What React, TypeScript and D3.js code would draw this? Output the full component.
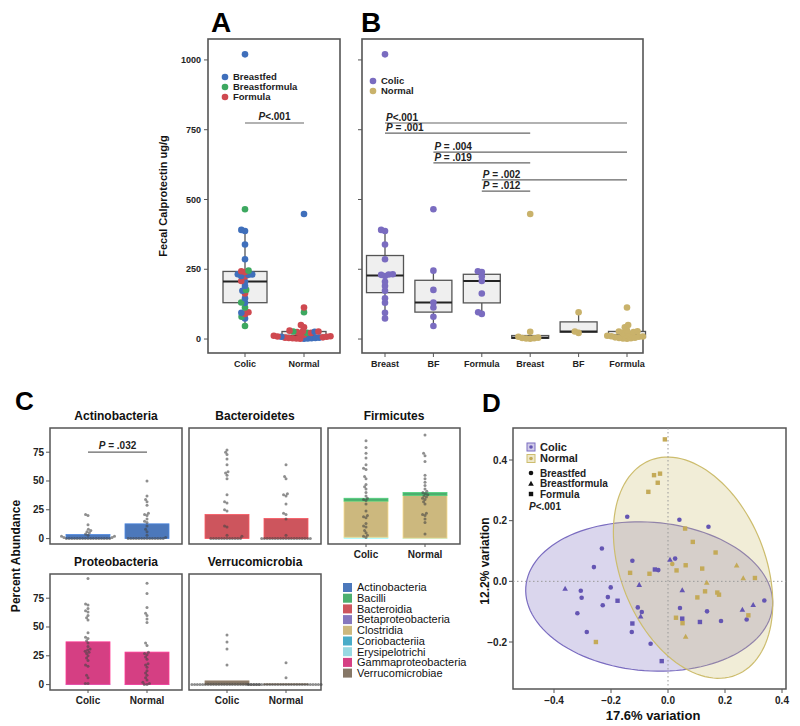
import * as d3 from "d3";

const FONT = "'Liberation Sans', Arial, Helvetica, sans-serif";

// ---- A / B: fecal calprotectin (ug/g), one value per infant
const colicBreast = [1020, 391, 387, 339, 286, 232, 231, 230, 226, 205, 190, 173, 146, 130, 94, 74];
const colicBF = [465, 245, 176, 131, 113, 80, 47];
const colicFormula = [243, 240, 224, 208, 163, 96, 90];
const normalBreast = [448, 26, 8, 5, 4, 3, 2, 1];
const normalBF = [96, 27, 22];
const normalFormula = [113, 50, 42, 30, 28, 27, 25, 22, 18, 15, 12, 10, 9, 8, 6, 5, 4, 3, 2, 1];

const calTicks = [0, 250, 500, 750, 1000];
const groupsA = ["Colic", "Normal"];
const groupsB = ["Breast", "BF", "Formula", "Breast", "BF", "Formula"];
const feedTypes = ["Breastfed", "Breastformula", "Formula"];
const feedColors = ["#3f6fbb", "#3da860", "#cf4950"];
const statusColors = ["#7a6cc0", "#c9b26b"];

const pA = { value: 774, label: "<.001" };
const pB = [
  { from: 0, to: 5, value: 774, label: "<.001" },
  { from: 0, to: 3, value: 738, label: " = .001" },
  { from: 1, to: 5, value: 670, label: " = .004" },
  { from: 1, to: 3, value: 631, label: " = .019" },
  { from: 2, to: 5, value: 570, label: " = .002" },
  { from: 2, to: 3, value: 530, label: " = .012" },
];

// ---- C: percent abundance per infant (dots) and mean class abundance (bars)
const actinoColic = [21, 20, 12, 8, 7, 6, 5, 4, 3, 2, 2, 1, 1, 0, 0, 0, 0, 0, 0, 0, 0, 0, 0, 0, 0, 0, 0, 0, 0, 0];
const actinoNormal = [50, 37, 34, 32, 29, 22, 21, 20, 17, 15, 14, 11, 8, 6, 3, 1, 0, 0, 0, 0, 0, 0, 0, 0, 0, 0, 0, 0, 0, 0];
const bacteroColic = [77, 75, 73, 69, 64, 58, 57, 55, 52, 38, 32, 31, 25, 24, 11, 10, 3, 2, 0, 0, 0, 0, 0, 0, 0, 0, 0, 0, 0, 0];
const bacteroNormal = [64, 54, 52, 39, 38, 37, 30, 22, 21, 17, 3, 0, 0, 0, 0, 0, 0, 0, 0, 0, 0, 0, 0, 0, 0, 0, 0, 0, 0, 0];
const firmiColic = [85, 79, 74, 70, 64, 61, 60, 54, 52, 47, 45, 43, 40, 37, 35, 34, 33, 30, 24, 20, 19, 18, 13, 11, 10, 7, 5, 3, 2, 1];
const firmiNormal = [90, 74, 72, 67, 55, 52, 49, 46, 43, 41, 40, 39, 38, 37, 36, 35, 34, 32, 30, 22, 21, 20, 17, 14, 4];
const proteoColic = [92, 70, 69, 66, 64, 63, 60, 58, 56, 45, 41, 40, 38, 36, 33, 31, 30, 29, 28, 27, 25, 23, 21, 17, 16, 8, 6, 1, 1];
const proteoNormal = [88, 79, 67, 62, 60, 57, 54, 36, 34, 28, 27, 26, 24, 22, 18, 17, 15, 12, 10, 8, 6, 4, 2, 1, 0, 0];
const verruColic = [43, 37, 31, 17, 0, 0, 0, 0, 0, 0, 0, 0, 0, 0, 0, 0, 0, 0, 0, 0, 0, 0, 0, 0, 0, 0, 0, 0, 0, 0];
const verruNormal = [19, 6, 0, 0, 0, 0, 0, 0, 0, 0, 0, 0, 0, 0, 0, 0, 0, 0, 0, 0, 0, 0, 0, 0, 0, 0, 0, 0, 0, 0];

// [class, colic mean, normal mean], bottom of stack first
const actinoBars: [string, number, number][] = [["Actinobacteria", 3.5, 12.8]];
const bacteroBars: [string, number, number][] = [["Bacteroidia", 21, 17.5]];
const firmiBars: [string, number, number][] = [["Erysipelotrichi", 1.2, 0.4], ["Clostridia", 31.3, 37], ["Bacilli", 2.5, 2.6]];
const proteoBars: [string, number, number][] = [["Betaproteobacteria", 0.3, 0.2], ["Gammaproteobacteria", 36.8, 28]];
const verruBars: [string, number, number][] = [["Verrucomicrobiae", 3.2, 0.6]];

const classes = ["Actinobacteria", "Bacilli", "Bacteroidia", "Betaproteobacteria", "Clostridia", "Coriobacteriia", "Erysipelotrichi", "Gammaproteobacteria", "Verrucomicrobiae"];
const classColors = ["#3d6db5", "#3da863", "#c9474f", "#7b6bb8", "#c8b273", "#3aa5c3", "#8fd6df", "#d12f78", "#7c6b5a"];
const abundTicks = [0, 25, 50, 75];

// ---- D: PCoA coordinates [axis1, axis2, feeding]
const pcoaColic: [number, number, string][] = [
  [-0.143, 0.213, "B"], [0.040, 0.203, "B"], [0.142, 0.180, "B"], [-0.232, 0.108, "B"], [-0.260, 0.047, "B"],
  [-0.125, 0.068, "B"], [0.007, 0.072, "BF"], [0.025, 0.075, "B"], [-0.046, 0.039, "F"], [-0.034, 0.037, "B"],
  [-0.361, -0.024, "BF"], [-0.306, -0.031, "B"], [-0.303, -0.054, "B"], [-0.201, -0.020, "B"], [-0.211, -0.052, "B"],
  [-0.177, -0.064, "F"], [-0.101, -0.011, "BF"], [-0.229, -0.079, "B"], [-0.318, -0.105, "B"], [-0.106, -0.086, "B"],
  [-0.092, -0.101, "B"], [-0.096, -0.115, "BF"], [-0.125, -0.139, "F"], [-0.127, -0.167, "B"], [-0.285, -0.167, "B"],
  [-0.061, -0.206, "B"], [-0.022, -0.263, "F"], [0.050, -0.029, "BF"], [0.042, -0.088, "B"], [0.050, -0.123, "F"],
  [0.137, -0.099, "B"], [0.112, -0.134, "F"], [0.186, -0.131, "B"], [0.261, -0.093, "BF"], [0.299, -0.077, "BF"],
  [0.338, -0.063, "B"], [0.276, -0.126, "B"],
];
const pcoaNormal: [number, number, string][] = [
  [-0.011, 0.468, "F"], [-0.049, 0.350, "F"], [-0.028, 0.355, "F"], [-0.036, 0.325, "F"], [-0.069, 0.295, "F"],
  [0.060, 0.174, "F"], [0.087, 0.130, "F"], [0.167, 0.095, "F"], [0.015, 0.057, "B"], [0.030, 0.036, "F"],
  [0.062, 0.053, "F"], [0.120, 0.042, "F"], [0.241, 0.053, "BF"], [0.264, 0.011, "BF"], [0.305, 0.011, "F"],
  [0.136, -0.004, "BF"], [-0.133, 0.028, "F"], [-0.065, 0.025, "F"], [0.130, -0.033, "F"], [0.103, -0.053, "F"],
  [0.173, -0.037, "F"], [0.179, -0.044, "F"], [0.282, -0.112, "F"], [0.028, -0.120, "F"], [0.051, -0.138, "F"],
  [0.062, -0.182, "BF"], [-0.253, -0.200, "F"],
];
// [cx, cy, semi-major, semi-minor, angle deg]
const ellColic = [-0.066, -0.05, 0.434, 0.245, -4];
const ellNormal = [0.088, 0.045, 0.385, 0.251, 115];
const pcoaTicksX = [-0.4, -0.2, 0, 0.2, 0.4];
const pcoaTicksY = [-0.2, 0, 0.2, 0.4];
const pcoaGroups = ["Colic", "Normal"];
const pcoaFill = ["#7a6cc0", "#cdbd6e"];
const pcoaPoint = ["#6455b3", "#c4aa58"];

// ---------- helpers
function boxStats(vals: number[]) {
  const s = vals.slice().sort(d3.ascending);
  const q1 = d3.quantileSorted(s, 0.25)!;
  const med = d3.quantileSorted(s, 0.5)!;
  const q3 = d3.quantileSorted(s, 0.75)!;
  const iqr = q3 - q1;
  const lo = d3.min(s.filter((v) => v >= q1 - 1.5 * iqr))!;
  const hi = d3.max(s.filter((v) => v <= q3 + 1.5 * iqr))!;
  return { q1, med, q3, lo, hi };
}

// simple beeswarm: place each point as close to the centre line as possible
function swarm<T>(items: T[], yOf: (d: T) => number, r: number) {
  const pts = items.map((d) => ({ d, y: yOf(d), x: 0 })).sort((a, b) => b.y - a.y);
  const placed: { x: number; y: number }[] = [];
  for (const p of pts) {
    const near = placed.filter((q) => Math.abs(q.y - p.y) < 2 * r);
    const cands = [0];
    near.forEach((q) => {
      const dx = Math.sqrt(4 * r * r - (q.y - p.y) ** 2);
      cands.push(q.x - dx, q.x + dx);
    });
    cands.sort((a, b) => Math.abs(a) - Math.abs(b));
    const ok = cands.find((c) => near.every((q) => (c - q.x) ** 2 + (p.y - q.y) ** 2 >= 4 * r * r - 0.01));
    p.x = ok ?? 0;
    placed.push(p);
  }
  return pts;
}

function Box({ vals, cx, w, y }: { vals: number[]; cx: number; w: number; y: d3.ScaleLinear<number, number> }) {
  const b = boxStats(vals);
  return (
    <g>
      <line x1={cx} x2={cx} y1={y(b.q3)} y2={y(b.hi)} stroke="#555" strokeWidth={1.3} />
      <line x1={cx} x2={cx} y1={y(b.q1)} y2={y(b.lo)} stroke="#555" strokeWidth={1.3} />
      <rect x={cx - w / 2} y={y(b.q3)} width={w} height={Math.max(1, y(b.q1) - y(b.q3))} fill="#efefef" stroke="#555" strokeWidth={1.3} />
      <line x1={cx - w / 2} x2={cx + w / 2} y1={y(b.med)} y2={y(b.med)} stroke="#222" strokeWidth={2} />
    </g>
  );
}

function PLabel({ x, y, text, anchor = "start" }: { x: number; y: number; text: string; anchor?: string }) {
  return (
    <text x={x} y={y} fontSize={10} fontFamily={FONT} fill="#222" textAnchor={anchor} fontWeight="bold">
      <tspan fontStyle="italic">P</tspan>
      {text}
    </text>
  );
}

// ---------- panels
const yCal = d3.scaleLinear().domain([-50, 1075]).range([353, 39]);

function PanelA() {
  const x = d3.scalePoint<string>().domain(groupsA).range([245, 304]);
  const colic = [colicBreast, colicBF, colicFormula].flatMap((arr, k) => arr.map((v) => ({ v, k })));
  const normal = [normalBreast, normalBF, normalFormula].flatMap((arr, k) => arr.map((v) => ({ v, k })));
  const sets = [colic, normal];
  return (
    <g fontFamily={FONT}>
      <rect x={208} y={39} width={132} height={314} fill="white" stroke="#555" strokeWidth={1.6} />
      {calTicks.map((t) => (
        <g key={t}>
          <line x1={204} x2={208} y1={yCal(t)} y2={yCal(t)} stroke="#555" />
          <text x={201} y={yCal(t)} dy="0.35em" textAnchor="end" fontSize={9} fontWeight="bold" fill="#222">{t}</text>
        </g>
      ))}
      {groupsA.map((g) => (
        <g key={g}>
          <line x1={x(g)} x2={x(g)} y1={353} y2={357} stroke="#555" />
          <text x={x(g)} y={367} textAnchor="middle" fontSize={9} fontWeight="bold" fill="#222">{g}</text>
        </g>
      ))}
      {sets.map((s, i) => (
        <Box key={i} vals={s.map((d) => d.v)} cx={x(groupsA[i])!} w={44} y={yCal} />
      ))}
      {sets.map((s, i) =>
        swarm(s, (d) => yCal(d.v), 1.9).map((p, j) => (
          <circle key={i + "-" + j} cx={x(groupsA[i])! + p.x} cy={p.y} r={3.3} fill={feedColors[p.d.k]} />
        ))
      )}
      {feedTypes.map((f, i) => (
        <g key={f}>
          <circle cx={225} cy={77 + i * 10} r={3.3} fill={feedColors[i]} />
          <text x={233} y={77 + i * 10} dy="0.35em" fontSize={9.5} fontWeight="bold" fill="#222">{f}</text>
        </g>
      ))}
      <line x1={x("Colic")} x2={x("Normal")} y1={yCal(pA.value)} y2={yCal(pA.value)} stroke="#666" strokeWidth={1.2} />
      <PLabel x={(x("Colic")! + x("Normal")!) / 2} y={yCal(pA.value) - 3} text={pA.label} anchor="middle" />
      <text x={163} y={196} transform="rotate(-90 163 196)" textAnchor="middle" dy="0.35em" fontSize={11} fontWeight="bold" fill="#111">Fecal Calprotectin ug/g</text>
      <text x={211} y={32} fontSize={28} fontWeight="bold" fill="#000">A</text>
    </g>
  );
}

function PanelB() {
  const idx = groupsB.map((_, i) => String(i));
  const x = d3.scalePoint<string>().domain(idx).range([385, 627]);
  const sets = [colicBreast, colicBF, colicFormula, normalBreast, normalBF, normalFormula];
  return (
    <g fontFamily={FONT}>
      <rect x={362} y={39} width={281} height={314} fill="white" stroke="#555" strokeWidth={1.6} />
      {calTicks.map((t) => (
        <line key={t} x1={358} x2={362} y1={yCal(t)} y2={yCal(t)} stroke="#555" />
      ))}
      {groupsB.map((g, i) => (
        <g key={i}>
          <line x1={x(idx[i])} x2={x(idx[i])} y1={353} y2={357} stroke="#555" />
          <text x={x(idx[i])} y={367} textAnchor="middle" fontSize={9} fontWeight="bold" fill="#222">{g}</text>
        </g>
      ))}
      {sets.map((s, i) => (
        <Box key={i} vals={s} cx={x(idx[i])!} w={37} y={yCal} />
      ))}
      {sets.map((s, i) =>
        swarm(s, (v) => yCal(v), 2.0).map((p, j) => (
          <circle key={i + "-" + j} cx={x(idx[i])! + p.x} cy={p.y} r={3.3} fill={statusColors[i < 3 ? 0 : 1]} />
        ))
      )}
      {groupsA.map((g, i) => (
        <g key={g}>
          <circle cx={373} cy={81 + i * 10} r={3.3} fill={statusColors[i]} />
          <text x={381} y={81 + i * 10} dy="0.35em" fontSize={9.5} fontWeight="bold" fill="#222">{g}</text>
        </g>
      ))}
      {pB.map((p, i) => (
        <g key={i}>
          <line x1={x(idx[p.from])} x2={x(idx[p.to])} y1={yCal(p.value)} y2={yCal(p.value)} stroke="#666" strokeWidth={1.2} />
          <PLabel x={x(idx[p.from])! + 1} y={yCal(p.value) - 2} text={p.label} />
        </g>
      ))}
      <text x={361} y={32} fontSize={28} fontWeight="bold" fill="#000">B</text>
    </g>
  );
}

const facets = [
  { name: "Actinobacteria", col: 0, row: 0, colic: actinoColic, normal: actinoNormal, bars: actinoBars, p: " = .032" },
  { name: "Bacteroidetes", col: 1, row: 0, colic: bacteroColic, normal: bacteroNormal, bars: bacteroBars, p: "" },
  { name: "Firmicutes", col: 2, row: 0, colic: firmiColic, normal: firmiNormal, bars: firmiBars, p: "" },
  { name: "Proteobacteria", col: 0, row: 1, colic: proteoColic, normal: proteoNormal, bars: proteoBars, p: "" },
  { name: "Verrucomicrobia", col: 1, row: 1, colic: verruColic, normal: verruNormal, bars: verruBars, p: "" },
];
const colX = [50, 189, 328];
const rowY = [428, 574];
const PW = 132;
const PH = 116;

function PanelC() {
  const color = d3.scaleOrdinal<string, string>().domain(classes).range(classColors);
  return (
    <g fontFamily={FONT}>
      {facets.map((f) => {
        const x0 = colX[f.col];
        const y0 = rowY[f.row];
        const y = d3.scaleLinear().domain([-4.7, 96]).range([y0 + PH, y0]);
        const x = d3.scalePoint<string>().domain(groupsA).range([x0 + 38, x0 + 97]);
        const showX = f.row === 1 || f.col === 2;
        const vals = [f.colic, f.normal];
        return (
          <g key={f.name}>
            <rect x={x0} y={y0} width={PW} height={PH} fill="white" stroke="#555" strokeWidth={1.5} />
            <text x={x0 + PW / 2} y={y0 - 8} textAnchor="middle" fontSize={12} fontWeight="bold" fill="#111">{f.name}</text>
            {f.col === 0 &&
              abundTicks.map((t) => (
                <g key={t}>
                  <line x1={x0 - 4} x2={x0} y1={y(t)} y2={y(t)} stroke="#555" />
                  <text x={x0 - 6} y={y(t)} dy="0.35em" textAnchor="end" fontSize={10} fontWeight="bold" fill="#222">{t}</text>
                </g>
              ))}
            {showX &&
              groupsA.map((g) => (
                <g key={g}>
                  <line x1={x(g)} x2={x(g)} y1={y0 + PH} y2={y0 + PH + 3} stroke="#555" />
                  <text x={x(g)} y={y0 + PH + 14} textAnchor="middle" fontSize={10} fontWeight="bold" fill="#222">{g}</text>
                </g>
              ))}
            {groupsA.map((g, gi) => {
              let acc = 0;
              return f.bars.map(([cls, c, n]) => {
                const v = gi === 0 ? c : n;
                const yTop = y(acc + v);
                const yBot = y(acc);
                acc += v;
                const col = color(cls);
                return (
                  <rect key={g + cls} x={x(g)! - 22} y={yTop} width={44} height={yBot - yTop} fill={col} fillOpacity={0.92}
                    stroke={d3.color(col)!.brighter(0.6).formatHex()} strokeWidth={0.8} />
                );
              });
            })}
            {vals.map((s, gi) =>
              swarm(s, (v) => y(v), 1.35).map((p, j) => (
                <circle key={gi + "-" + j} cx={x(groupsA[gi])! + p.x} cy={p.y} r={1.5} fill="#444" fillOpacity={0.6} />
              ))
            )}
            {f.p && (
              <g>
                <line x1={x("Colic")} x2={x("Normal")} y1={y(75)} y2={y(75)} stroke="#666" strokeWidth={1.2} />
                <PLabel x={(x("Colic")! + x("Normal")!) / 2} y={y(75) - 3} text={f.p} anchor="middle" />
              </g>
            )}
          </g>
        );
      })}
      {classes.map((c, i) => (
        <g key={c}>
          <rect x={343} y={583 + i * 10.7} width={9} height={9} fill={classColors[i]} fillOpacity={0.92} />
          <text x={357} y={583 + i * 10.7 + 4.5} dy="0.35em" fontSize={11} fill="#111">{c}</text>
        </g>
      ))}
      <text x={16} y={556} transform="rotate(-90 16 556)" textAnchor="middle" dy="0.35em" fontSize={12} fontWeight="bold" fill="#111">Percent Abundance</text>
      <text x={15} y={410} fontSize={26} fontWeight="bold" fill="#000">C</text>
    </g>
  );
}

function Marker({ type, x, y, fill }: { type: string; x: number; y: number; fill: string }) {
  if (type === "BF") {
    const s = 2.8;
    return <path d={`M${x},${y - s}L${x + s},${y + s * 0.8}L${x - s},${y + s * 0.8}Z`} fill={fill} />;
  }
  if (type === "F") return <rect x={x - 2.2} y={y - 2.2} width={4.4} height={4.4} fill={fill} />;
  return <circle cx={x} cy={y} r={2.3} fill={fill} />;
}

function PanelD() {
  const x = d3.scaleLinear().domain([-0.4, 0.4]).range([554, 782]);
  const y = d3.scaleLinear().domain([-0.2, 0.4]).range([642, 460]);
  const ellPath = (e: number[]) => {
    const [cx, cy, a, b, ang] = e;
    const phi = (ang * Math.PI) / 180;
    const ts = d3.range(0, 2 * Math.PI + 0.001, Math.PI / 60);
    const line = d3.line<number>()
      .x((t) => x(cx + a * Math.cos(t) * Math.cos(phi) - b * Math.sin(t) * Math.sin(phi)))
      .y((t) => y(cy + a * Math.cos(t) * Math.sin(phi) + b * Math.sin(t) * Math.cos(phi)));
    return line(ts)! + "Z";
  };
  const left = 513, right = 786, top = 428, bottom = 689;
  return (
    <g fontFamily={FONT}>
      <rect x={left} y={top} width={right - left} height={bottom - top} fill="white" stroke="#555" strokeWidth={1.5} />
      <defs>
        <clipPath id="dclip"><rect x={left} y={top} width={right - left} height={bottom - top} /></clipPath>
      </defs>
      <g clipPath="url(#dclip)">
        {[ellColic, ellNormal].map((e, i) => (
          <path key={i} d={ellPath(e)} fill={pcoaFill[i]} fillOpacity={0.28} stroke={pcoaFill[i]} strokeWidth={1.2} />
        ))}
        <line x1={x(0)} x2={x(0)} y1={top} y2={bottom} stroke="#999" strokeDasharray="1.5,2.5" />
        <line x1={left} x2={right} y1={y(0)} y2={y(0)} stroke="#999" strokeDasharray="1.5,2.5" />
        {[pcoaColic, pcoaNormal].map((pts, i) =>
          pts.map((p, j) => <Marker key={i + "-" + j} type={p[2]} x={x(p[0])} y={y(p[1])} fill={pcoaPoint[i]} />)
        )}
      </g>
      {pcoaTicksX.map((t) => (
        <g key={t}>
          <line x1={x(t)} x2={x(t)} y1={bottom} y2={bottom + 4} stroke="#555" />
          <text x={x(t)} y={bottom + 15} textAnchor="middle" fontSize={10} fontWeight="bold" fill="#222">{d3.format(".1f")(t)}</text>
        </g>
      ))}
      {pcoaTicksY.map((t) => (
        <g key={t}>
          <line x1={left - 4} x2={left} y1={y(t)} y2={y(t)} stroke="#555" />
          <text x={left - 6} y={y(t)} dy="0.35em" textAnchor="end" fontSize={10} fontWeight="bold" fill="#222">{d3.format(".1f")(t)}</text>
        </g>
      ))}
      <text x={653} y={720} textAnchor="middle" fontSize={13} fontWeight="bold" fill="#111">17.6% variation</text>
      <text x={485} y={561} transform="rotate(-90 485 561)" textAnchor="middle" dy="0.35em" fontSize={12} fontWeight="bold" fill="#111">12.2% variation</text>
      {pcoaGroups.map((g, i) => (
        <g key={g}>
          <rect x={527} y={443 + i * 11.5} width={8} height={8} fill={pcoaFill[i]} fillOpacity={0.35} stroke={pcoaFill[i]} strokeWidth={1} />
          <circle cx={531} cy={447 + i * 11.5} r={1.8} fill={pcoaPoint[i]} />
          <text x={540} y={447 + i * 11.5} dy="0.35em" fontSize={11} fontWeight="bold" fill="#222">{g}</text>
        </g>
      ))}
      {["B", "BF", "F"].map((t, i) => (
        <g key={t}>
          <Marker type={t} x={531} y={473 + i * 10.5} fill="#111" />
          <text x={540} y={473 + i * 10.5} dy="0.35em" fontSize={10} fontWeight="bold" fill="#222">{feedTypes[i]}</text>
        </g>
      ))}
      <PLabel x={529} y={510} text="<.001" />
      <text x={482} y={412} fontSize={26} fontWeight="bold" fill="#000">D</text>
    </g>
  );
}

export default function App() {
  return (
    <svg width={800} height={726} style={{ position: "absolute", left: 0, top: 0, background: "white" }}>
      <rect width={800} height={726} fill="white" />
      <PanelA />
      <PanelB />
      <PanelC />
      <PanelD />
    </svg>
  );
}
